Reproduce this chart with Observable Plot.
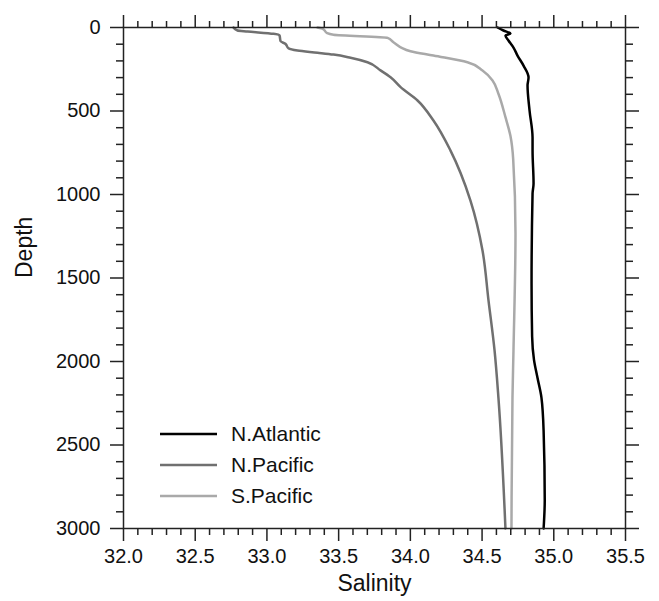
<!DOCTYPE html>
<html>
<head>
<meta charset="utf-8">
<script src="https://cdn.jsdelivr.net/npm/d3@7"></script>
<script src="https://cdn.jsdelivr.net/npm/@observablehq/plot@0.6"></script>
<style>
  body { margin: 0; background: white; }
  #wrap { position: relative; width: 659px; height: 601px; }
  #wrap svg { display: block; }
  #legend { position: absolute; left: 160px; top: 418px; font-family: "Liberation Sans", Arial, sans-serif; font-size: 21px; color: #111; }
  #legend .row { display: flex; align-items: center; height: 31px; }
  #legend svg { margin-right: 14px; }
</style>
</head>
<body>
<div id="wrap"><div id="legend"></div></div>
<script>
const seriesNames = ["N.Atlantic", "N.Pacific", "S.Pacific"];
const seriesColors = ["#000000", "#707070", "#a9a9a9"];

const atlSal = [34.608, 34.649, 34.698, 34.663, 34.684, 34.719, 34.747, 34.789, 34.824, 34.817, 34.831, 34.852, 34.852, 34.859, 34.852, 34.845, 34.849, 34.862, 34.886, 34.914, 34.929, 34.937, 34.929];
const atlDep = [0, 18, 36, 48, 78, 120, 168, 228, 299, 347, 497, 659, 737, 934, 994, 1533, 1850, 1990, 2096, 2216, 2413, 2832, 3000];

const npSal = [32.767, 32.795, 32.865, 33.046, 33.088, 33.095, 33.129, 33.150, 33.213, 33.353, 33.464, 33.583, 33.701, 33.792, 33.862, 33.932, 34.050, 34.161, 34.280, 34.419, 34.503, 34.545, 34.587, 34.614, 34.663];
const npDep = [0, 18, 24, 38, 48, 82, 98, 124, 138, 151, 162, 181, 208, 257, 298, 357, 437, 557, 737, 1036, 1335, 1635, 1934, 2216, 3000];

const spSal = [33.353, 33.39, 33.42, 33.464, 33.841, 33.882, 34.001, 34.161, 34.398, 34.503, 34.573, 34.614, 34.663, 34.698, 34.717, 34.733, 34.719, 34.712, 34.705];
const spDep = [0, 8, 34, 44, 62, 88, 142, 168, 208, 257, 317, 397, 537, 650, 790, 1234, 1934, 2216, 3000];

const xMajor = [32.0, 32.5, 33.0, 33.5, 34.0, 34.5, 35.0, 35.5];
const xMinor = d3.range(320, 356, 1).map(v => v / 10).filter(v => !xMajor.includes(v));
const yMajor = [0, 500, 1000, 1500, 2000, 2500, 3000];
const yMinor = d3.range(0, 3001, 100).filter(v => !yMajor.includes(v));

const rows = [];
[[atlSal, atlDep], [npSal, npDep], [spSal, spDep]].forEach(([s, d], k) => {
  s.forEach((v, i) => rows.push({series: seriesNames[k], sal: v, depth: d[i]}));
});

const axisColor = "#222";
const empty = () => "";

const plot = Plot.plot({
  width: 659,
  height: 601,
  marginLeft: 123,
  marginRight: 34,
  marginTop: 27,
  marginBottom: 73,
  style: {fontFamily: "Liberation Sans, Arial, sans-serif", fontSize: "20px", color: "#111", background: "white", overflow: "visible"},
  x: {domain: [32, 35.5]},
  y: {domain: [0, 3000], reverse: true},
  color: {domain: seriesNames, range: seriesColors},
  marks: [
    Plot.line(rows, {x: "sal", y: "depth", z: "series", stroke: "series", strokeWidth: 2.5, curve: "monotone-y"}),
    Plot.axisX({anchor: "bottom", ticks: xMajor, tickFormat: d3.format(".1f"), tickSize: 13, tickPadding: 7, stroke: axisColor, strokeWidth: 1.5, label: null}),
    Plot.axisX({anchor: "bottom", ticks: xMinor, tickFormat: empty, tickSize: 7, stroke: axisColor, strokeWidth: 1.5, label: null}),
    Plot.axisX({anchor: "top", ticks: xMajor, tickFormat: empty, tickSize: 13, stroke: axisColor, strokeWidth: 1.5, label: null}),
    Plot.axisX({anchor: "top", ticks: xMinor, tickFormat: empty, tickSize: 7, stroke: axisColor, strokeWidth: 1.5, label: null}),
    Plot.axisY({anchor: "left", ticks: yMajor, tickFormat: d3.format("d"), tickSize: 13, tickPadding: 10, stroke: axisColor, strokeWidth: 1.5, label: null}),
    Plot.axisY({anchor: "left", ticks: yMinor, tickFormat: empty, tickSize: 7, stroke: axisColor, strokeWidth: 1.5, label: null}),
    Plot.axisY({anchor: "right", ticks: yMajor, tickFormat: empty, tickSize: 13, stroke: axisColor, strokeWidth: 1.5, label: null}),
    Plot.axisY({anchor: "right", ticks: yMinor, tickFormat: empty, tickSize: 7, stroke: axisColor, strokeWidth: 1.5, label: null}),
    Plot.frame({stroke: axisColor, strokeWidth: 1.5}),
    Plot.text(["Salinity"], {text: d => d, frameAnchor: "bottom", dy: 62, fontSize: 23, fill: "#111"}),
    Plot.text(["Depth"], {text: d => d, frameAnchor: "left", dx: -99, rotate: -90, fontSize: 23, fill: "#111"})
  ]
});
const wrap = document.getElementById("wrap");
wrap.insertBefore(plot, wrap.firstChild);

const legend = document.getElementById("legend");
seriesNames.forEach((name, i) => {
  const row = document.createElement("div");
  row.className = "row";
  row.innerHTML = `<svg width="57" height="6"><line x1="0" x2="57" y1="3" y2="3" stroke="${seriesColors[i]}" stroke-width="2.6"/></svg><span>${name}</span>`;
  legend.appendChild(row);
});
</script>
</body>
</html>
